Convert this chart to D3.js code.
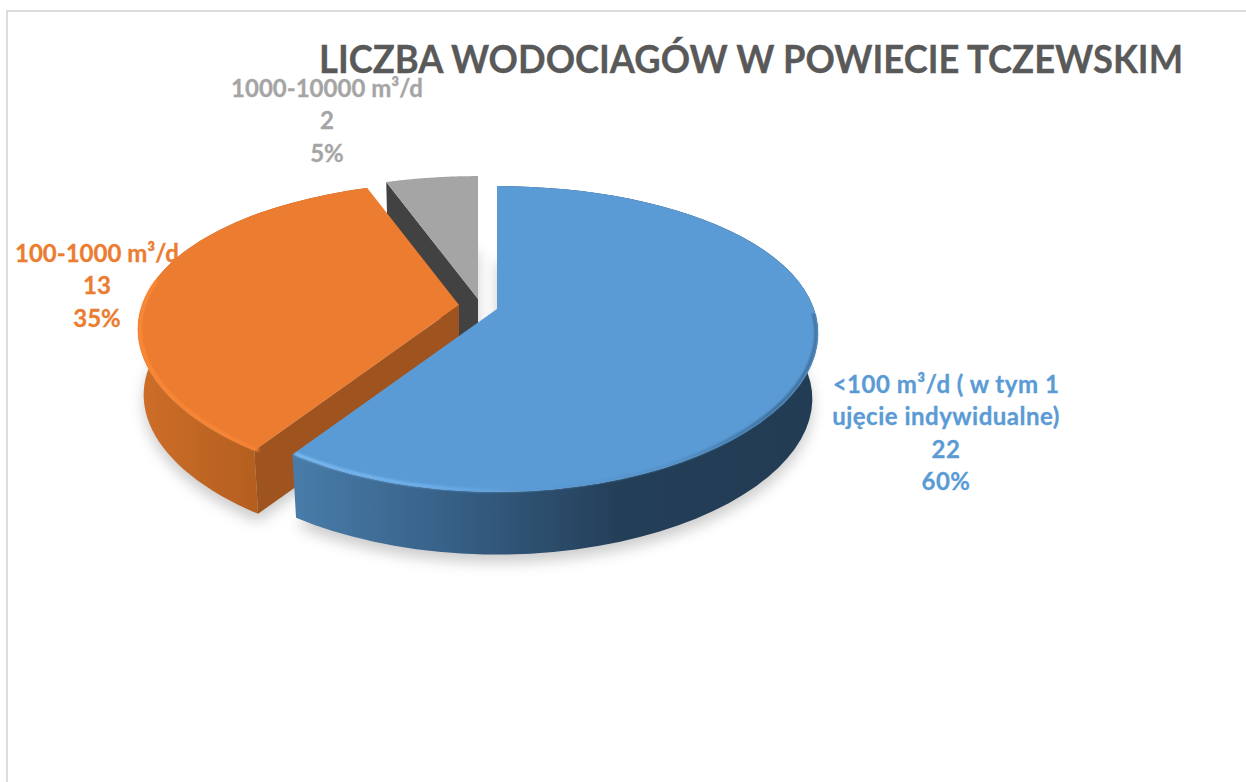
<!DOCTYPE html>
<html>
<head>
<meta charset="utf-8">
<script src="https://cdn.jsdelivr.net/npm/d3@7"></script>
<style>
  body { margin: 0; background: #fff; }
  text { font-family: Lato, "Open Sans", sans-serif; font-weight: 700; }
</style>
</head>
<body>
<div id="chart"></div>
<script>
const chartTitle = "LICZBA WODOCIAGÓW W POWIECIE TCZEWSKIM"

const categories = ["<100 m³/d", "100-1000 m³/d", "1000-10000 m³/d"]
const values = [22, 13, 2]
const percentLabels = ["60%", "35%", "5%"]
const categoryLines = [
  ["<100 m³/d ( w tym 1", "ujęcie indywidualne)"],
  ["100-1000 m³/d"],
  ["1000-10000 m³/d"],
]
const topColors = ["#5B9BD5", "#EB7C30", "#A5A5A5"]

const width = 1246
const height = 782

// each exploded slice keeps its own tip on screen
const tips = [
  { x: 497, y: 309 },
  { x: 459, y: 305 },
  { x: 478, y: 299 },
]
// disc seen in perspective
const radiusX = 317
const radiusY = 147
const perspectiveX = 0.16
const perspectiveY = 0.196
const depth = 66
const shrink = 0.982

function project(angle, r, tip, lower) {
  const u = Math.sin(angle) * r
  const v = -Math.cos(angle) * r
  const s = lower ? shrink : 1
  return [
    tip.x + (s * radiusX * u) / (1 - perspectiveX * v),
    tip.y + (lower ? depth : 0) + (s * radiusY * v) / (1 - perspectiveY * v),
  ]
}

const line = d3.line()

function arcPoints(a0, a1, tip, lower, r = 1) {
  return d3.range(0, 61).map(i => project(a0 + ((a1 - a0) * i) / 60, r, tip, lower))
}

function sectorPath(d, tip, lower) {
  return line([
    project(0, 0, tip, lower),
    ...arcPoints(d.startAngle, d.endAngle, tip, lower),
  ]) + "Z"
}

function outerWall(d, tip) {
  return line([
    ...arcPoints(d.startAngle, d.endAngle, tip, false),
    ...arcPoints(d.endAngle, d.startAngle, tip, true),
  ]) + "Z"
}

function cutWall(angle, tip) {
  return line([
    project(0, 0, tip, false),
    project(angle, 1, tip, false),
    project(angle, 1, tip, true),
    project(0, 0, tip, true),
  ]) + "Z"
}

const pie = d3.pie().sort(null).value(d => d)
const slices = pie(values)

const svg = d3
  .select("#chart")
  .append("svg")
  .attr("width", width)
  .attr("height", height)
  .style("display", "block")

const defs = svg.append("defs")

defs
  .append("filter")
  .attr("id", "shadowBlur")
  .attr("x", "-20%")
  .attr("y", "-20%")
  .attr("width", "140%")
  .attr("height", "140%")
  .append("feGaussianBlur")
  .attr("stdDeviation", 7)

defs
  .append("filter")
  .attr("id", "rimBlur")
  .attr("x", "-10%")
  .attr("y", "-10%")
  .attr("width", "120%")
  .attr("height", "120%")
  .append("feGaussianBlur")
  .attr("stdDeviation", 1.3)

function gradient(id, x1, x2, stops) {
  const g = defs
    .append("linearGradient")
    .attr("id", id)
    .attr("gradientUnits", "userSpaceOnUse")
    .attr("x1", x1)
    .attr("x2", x2)
    .attr("y1", 0)
    .attr("y2", 0)
  stops.forEach(s => {
    g.append("stop")
      .attr("offset", s[0])
      .attr("stop-color", s[1])
  })
}

gradient("blueWall", 300, 820, [
  [0, "#487BA8"],
  [0.3, "#365F85"],
  [0.62, "#233E57"],
  [1, "#223C54"],
])
gradient("orangeWall", 145, 262, [
  [0, "#CC6D28"],
  [1, "#B35E1F"],
])
gradient("blueRim", 298, 820, [
  [0, "#7DBDF5"],
  [0.25, "#6DB1EE"],
  [0.42, "#5B9BD5"],
  [0.72, "#5490C8"],
  [0.9, "#3A6C9A"],
  [1, "#3F719F"],
])
gradient("orangeRim", 140, 260, [
  [0, "#FF8A38"],
  [1, "#F78433"],
])

// frame
svg
  .append("rect")
  .attr("x", 7)
  .attr("y", 11)
  .attr("width", width)
  .attr("height", height)
  .attr("fill", "none")
  .attr("stroke", "#DDDDDD")
  .attr("stroke-width", 2)

svg
  .append("text")
  .attr("x", 319)
  .attr("y", 73)
  .attr("textLength", 864)
  .attr("lengthAdjust", "spacingAndGlyphs")
  .style("font-size", "38px")
  .attr("fill", "#595959")
  .attr("stroke", "#595959")
  .attr("stroke-width", 0.3)
  .text(chartTitle)

// ground shadow
svg
  .append("g")
  .attr("filter", "url(#shadowBlur)")
  .selectAll("path")
  .data(slices)
  .join("path")
  .attr("d", (d, i) => sectorPath(d, tips[i], true))
  .attr("transform", "translate(0,8)")
  .attr("fill", "#000")
  .attr("fill-opacity", 0.2)

// drawn back to front: grey, orange, blue
const grey = slices[2]
const orange = slices[1]
const blue = slices[0]

svg
  .append("path")
  .attr("d", cutWall(grey.startAngle, tips[2]))
  .attr("fill", "#424242")
svg
  .append("path")
  .attr("d", sectorPath(grey, tips[2], false))
  .attr("fill", topColors[2])

svg
  .append("path")
  .attr("d", outerWall(orange, tips[1]))
  .attr("fill", "url(#orangeWall)")
svg
  .append("path")
  .attr("d", cutWall(orange.startAngle, tips[1]))
  .attr("fill", "#9F541F")
svg
  .append("path")
  .attr("d", sectorPath(orange, tips[1], false))
  .attr("fill", topColors[1])
svg
  .append("path")
  .attr("d", line(arcPoints(orange.startAngle - 0.01, orange.startAngle + 1.15, tips[1], false, 0.993)))
  .attr("fill", "none")
  .attr("stroke", "url(#orangeRim)")
  .attr("stroke-width", 3)
  .attr("filter", "url(#rimBlur)")

svg
  .append("path")
  .attr("d", outerWall(blue, tips[0]))
  .attr("fill", "url(#blueWall)")
svg
  .append("path")
  .attr("d", sectorPath(blue, tips[0], false))
  .attr("fill", topColors[0])
svg
  .append("path")
  .attr("d", line(arcPoints(1.6, blue.endAngle - 0.005, tips[0], false, 0.993)))
  .attr("fill", "none")
  .attr("stroke", "url(#blueRim)")
  .attr("stroke-width", 3)
  .attr("filter", "url(#rimBlur)")

// data labels
const labelAnchors = [
  { x: 946, y: 393 },
  { x: 97, y: 262 },
  { x: 327, y: 97 },
]
const labelStep = 32.3

const labels = svg
  .append("g")
  .selectAll("text")
  .data(categories)
  .join("text")
  .attr("text-anchor", "middle")
  .style("font-size", "24px")
  .attr("fill", (d, i) => topColors[i])
  .attr("stroke", (d, i) => topColors[i])
  .attr("stroke-width", 0.3)
  .style("letter-spacing", (d, i) => (i === 0 ? "0.5px" : "0"))

labels.each(function (d, i) {
  const rows = [...categoryLines[i], String(values[i]), percentLabels[i]]
  d3.select(this)
    .selectAll("tspan")
    .data(rows)
    .join("tspan")
    .attr("x", labelAnchors[i].x)
    .attr("y", (r, j) => labelAnchors[i].y + j * labelStep)
    .text(r => r)
})
</script>
</body>
</html>
